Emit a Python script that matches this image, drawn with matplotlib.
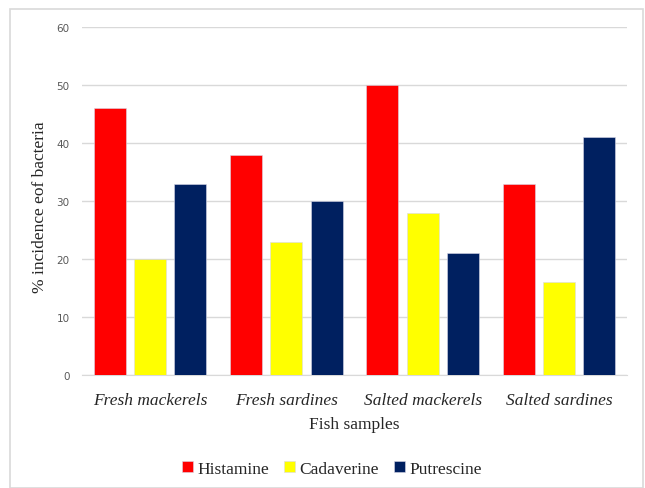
import matplotlib
matplotlib.use("Agg")
import matplotlib.pyplot as plt
import matplotlib.patches as mpatches
import numpy as np

categories = ["Fresh mackerels", "Fresh sardines", "Salted mackerels", "Salted sardines"]
series_names = ["Histamine", "Cadaverine", "Putrescine"]
histamine = [46, 38, 50, 33]
cadaverine = [20, 23, 28, 16]
putrescine = [33, 30, 21, 41]
colors = ["#FF0000", "#FFFF00", "#002060"]

W, H = 645, 489
fig = plt.figure(figsize=(W / 100, H / 100), dpi=100)
ax = fig.add_axes([82 / W, 1 - 376 / H, (627 - 82) / W, (376 - 28) / H])

x = np.arange(len(categories))
width = 0.235
step = 0.295
for i, (vals, c, name) in enumerate(zip([histamine, cadaverine, putrescine], colors, series_names)):
    ax.bar(x + (i - 1) * step, vals, width, color=c, label=name,
           edgecolor="#d8d8e8", linewidth=0.4, zorder=3)

ax.set_xlim(-0.5, len(categories) - 0.5)
ax.set_ylim(0, 60)
ax.set_yticks(range(0, 61, 10))
ax.grid(axis="y", color="#d9d9d9", linewidth=1, zorder=0)
for s in ["top", "right", "left"]:
    ax.spines[s].set_visible(False)
ax.spines["bottom"].set_color("#d9d9d9")
ax.tick_params(axis="y", length=0, labelsize=7.5, labelcolor="#595959", pad=9)
ax.tick_params(axis="x", length=0, pad=12)
ax.set_xticks(x)
ax.set_xticklabels(categories, fontfamily="Liberation Serif", fontstyle="italic",
                   fontsize=12.5, color="#262626")
ax.set_xlabel("Fish samples", fontfamily="Liberation Serif", fontsize=12.5,
              color="#262626", labelpad=6)
ax.set_ylabel("% incidence eof bacteria", fontfamily="Liberation Serif", fontsize=12.5,
              color="#262626")
ax.yaxis.set_label_coords(-0.062, 0.485)

leg = fig.legend(loc="center", bbox_to_anchor=(332 / W, 1 - 470 / H), ncol=3,
                 frameon=False, prop={"family": "Liberation Serif", "size": 12.5},
                 handlelength=0.6, handleheight=0.6, handletextpad=0.25, columnspacing=0.9)
for t in leg.get_texts():
    t.set_color("#262626")

border = mpatches.Rectangle((10 / W, 0), (643 - 10) / W, 1 - 10 / H, transform=fig.transFigure,
                            fill=False, edgecolor="#d9d9d9", linewidth=1.2)
fig.patches.append(border)

fig.savefig("out.png", dpi=100)
